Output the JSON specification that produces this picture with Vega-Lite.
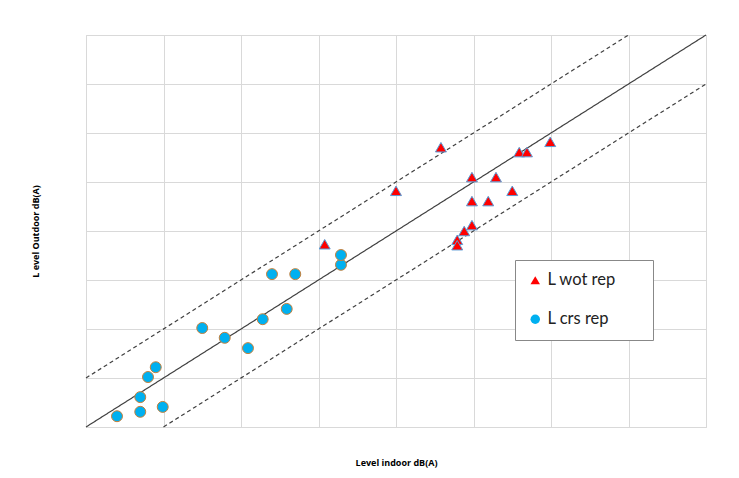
{
  "$schema": "https://vega.github.io/schema/vega-lite/v6.json",
  "width": 620,
  "height": 392,
  "autosize": "none",
  "padding": {"left": 86, "top": 35, "right": 33, "bottom": 51},
  "background": "white",
  "config": {
    "view": {"stroke": "#d9d9d9", "strokeWidth": 1},
    "font": "Open Sans"
  },
  "datasets": {
    "pts": [
      {"series": "L wot rep", "indoor": 52.9, "outdoor": 58.55},
      {"series": "L wot rep", "indoor": 50.0, "outdoor": 54.1},
      {"series": "L wot rep", "indoor": 45.4, "outdoor": 48.65},
      {"series": "L wot rep", "indoor": 54.9, "outdoor": 55.5},
      {"series": "L wot rep", "indoor": 54.9, "outdoor": 53.05},
      {"series": "L wot rep", "indoor": 55.95, "outdoor": 53.05},
      {"series": "L wot rep", "indoor": 56.45, "outdoor": 55.5},
      {"series": "L wot rep", "indoor": 57.5, "outdoor": 54.1},
      {"series": "L wot rep", "indoor": 57.95, "outdoor": 58.05},
      {"series": "L wot rep", "indoor": 58.45, "outdoor": 58.05},
      {"series": "L wot rep", "indoor": 59.95, "outdoor": 59.1},
      {"series": "L wot rep", "indoor": 54.9, "outdoor": 50.6},
      {"series": "L wot rep", "indoor": 54.4, "outdoor": 50.0},
      {"series": "L wot rep", "indoor": 53.95, "outdoor": 49.1},
      {"series": "L wot rep", "indoor": 53.95, "outdoor": 48.55},
      {"series": "L crs rep", "indoor": 32.0, "outdoor": 31.1},
      {"series": "L crs rep", "indoor": 33.5, "outdoor": 31.55},
      {"series": "L crs rep", "indoor": 34.95, "outdoor": 32.05},
      {"series": "L crs rep", "indoor": 33.5, "outdoor": 33.05},
      {"series": "L crs rep", "indoor": 34.0, "outdoor": 35.1},
      {"series": "L crs rep", "indoor": 34.5, "outdoor": 36.1},
      {"series": "L crs rep", "indoor": 37.5, "outdoor": 40.1},
      {"series": "L crs rep", "indoor": 38.95, "outdoor": 39.1},
      {"series": "L crs rep", "indoor": 40.45, "outdoor": 38.05},
      {"series": "L crs rep", "indoor": 41.4, "outdoor": 41.0},
      {"series": "L crs rep", "indoor": 42.95, "outdoor": 42.05},
      {"series": "L crs rep", "indoor": 42.0, "outdoor": 45.6},
      {"series": "L crs rep", "indoor": 43.5, "outdoor": 45.6},
      {"series": "L crs rep", "indoor": 46.45, "outdoor": 46.55},
      {"series": "L crs rep", "indoor": 46.45, "outdoor": 47.55}
    ],
    "lines": [
      {"line": "equal", "dash": "solid", "indoor": 30, "outdoor": 30},
      {"line": "equal", "dash": "solid", "indoor": 70, "outdoor": 70},
      {"line": "upper", "dash": "dashed", "indoor": 30, "outdoor": 35},
      {"line": "upper", "dash": "dashed", "indoor": 65, "outdoor": 70},
      {"line": "lower", "dash": "dashed", "indoor": 35, "outdoor": 30},
      {"line": "lower", "dash": "dashed", "indoor": 70, "outdoor": 65}
    ]
  },
  "layer": [
    {
      "data": {"name": "lines"},
      "mark": {"type": "line", "color": "#404040", "strokeWidth": 1.2},
      "encoding": {
        "x": {
          "field": "indoor", "type": "quantitative",
          "scale": {"domain": [30, 70], "nice": false, "zero": false},
          "axis": {
            "title": "Level indoor dB(A)", "titleFontSize": 9, "titleFontWeight": "bold",
            "titleColor": "#000000", "titlePadding": 31,
            "labels": false, "ticks": false, "domain": false,
            "grid": true, "gridColor": "#d9d9d9", "values": [30, 35, 40, 45, 50, 55, 60, 65, 70]
          }
        },
        "y": {
          "field": "outdoor", "type": "quantitative",
          "scale": {"domain": [30, 70], "nice": false, "zero": false},
          "axis": {
            "title": "L evel Outdoor dB(A)", "titleFontSize": 9, "titleFontWeight": "bold",
            "titleColor": "#000000", "titlePadding": 46,
            "labels": false, "ticks": false, "domain": false,
            "grid": true, "gridColor": "#d9d9d9", "values": [30, 35, 40, 45, 50, 55, 60, 65, 70]
          }
        },
        "detail": {"field": "line"},
        "strokeDash": {
          "field": "dash", "type": "nominal",
          "scale": {"domain": ["solid", "dashed"], "range": [[1, 0], [4, 3]]},
          "legend": null
        }
      }
    },
    {
      "data": {"name": "pts"},
      "mark": {"type": "point", "filled": true, "size": 120, "strokeWidth": 1, "opacity": 1},
      "encoding": {
        "x": {"field": "indoor", "type": "quantitative"},
        "y": {"field": "outdoor", "type": "quantitative"},
        "shape": {
          "field": "series", "type": "nominal",
          "scale": {"domain": ["L wot rep", "L crs rep"], "range": ["triangle-up", "circle"]},
          "legend": {
            "title": null, "orient": "none", "legendX": 429, "legendY": 225,
            "padding": 12, "rowPadding": 22, "labelFontSize": 16.5, "labelColor": "#222222",
            "labelFont": "Lato", "symbolSize": 90, "symbolStrokeWidth": 0,
            "labelExpr": "datum.label + '\u2800\u2800'",
            "fillColor": "white", "strokeColor": "#888888",
            "labelOffset": 4, "offset": 0
          }
        },
        "fill": {
          "field": "series", "type": "nominal",
          "scale": {"domain": ["L wot rep", "L crs rep"], "range": ["#ff0000", "#00b0f0"]},
          "legend": null
        },
        "stroke": {
          "field": "series", "type": "nominal",
          "scale": {"domain": ["L wot rep", "L crs rep"], "range": ["#5b9bd5", "#c5803b"]},
          "legend": null
        }
      }
    }
  ]
}
